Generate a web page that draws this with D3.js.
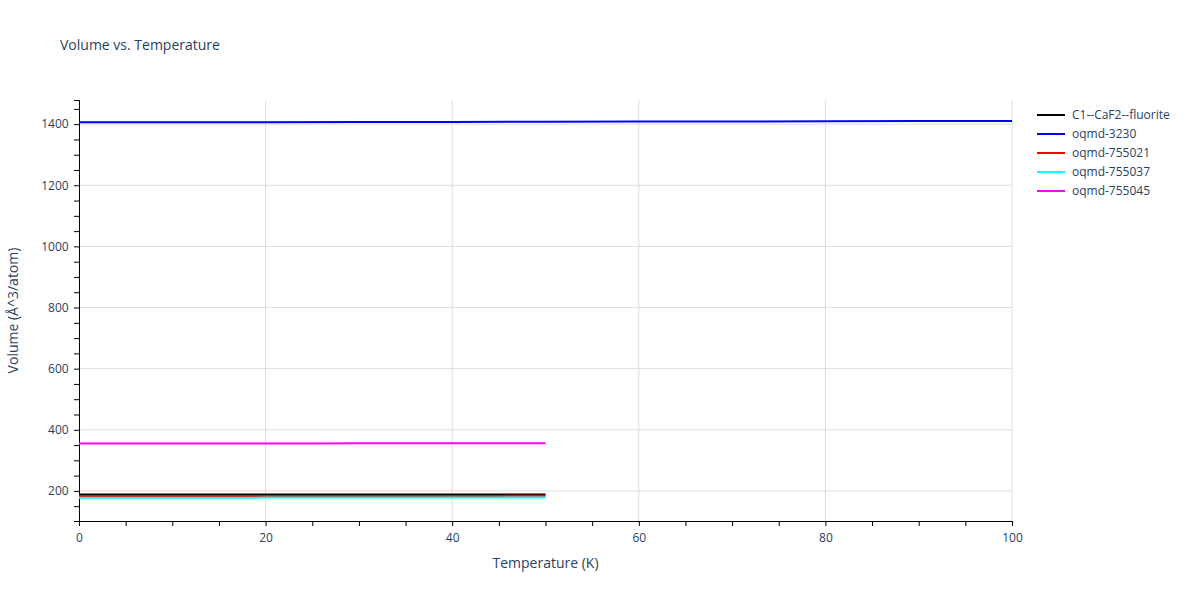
<!DOCTYPE html>
<html>
<head>
<meta charset="utf-8">
<script src="https://cdn.jsdelivr.net/npm/d3@7"></script>
<style>
  body { margin: 0; font-family: 'Open Sans', sans-serif; background: #fff; }
  text { fill: #2a3f5f; }
</style>
</head>
<body>
<svg id="chart" width="1200" height="600"></svg>
<script>
var temps50 = [0, 5, 10, 15, 20, 25, 30, 35, 40, 45, 50];
var temps100 = [0, 10, 20, 30, 40, 50, 60, 70, 80, 90, 100];

var seriesNames = ["C1--CaF2--fluorite", "oqmd-3230", "oqmd-755021", "oqmd-755037", "oqmd-755045"];
var seriesColors = ["#000000", "#0000ff", "#ff0000", "#00ffff", "#ff00ff"];

var volBlack = [187.8, 187.8, 187.9, 187.9, 188.0, 188.0, 188.1, 188.2, 188.2, 188.3, 188.4];
var volBlue = [1406, 1406.3, 1406.6, 1407, 1407.4, 1407.8, 1408.3, 1408.8, 1409.4, 1410, 1410.6];
var volRed = [183.2, 183.2, 183.3, 183.3, 183.4, 183.4, 183.5, 183.6, 183.6, 183.7, 183.8];
var volCyan = [177.8, 177.8, 177.9, 177.9, 178.0, 178.0, 178.1, 178.2, 178.2, 178.3, 178.4];
var volMagenta = [355.0, 355.0, 355.1, 355.2, 355.3, 355.4, 355.5, 355.6, 355.8, 355.9, 356.0];

var series = [
  { x: temps50, y: volBlack },
  { x: temps100, y: volBlue },
  { x: temps50, y: volRed },
  { x: temps50, y: volCyan },
  { x: temps50, y: volMagenta }
];

var svg = d3.select("#chart");
var mLeft = 79, mRight = 1012, mTop = 100, mBottom = 521;

var x = d3.scaleLinear().domain([0, 100]).range([mLeft, mRight]);
var y = d3.scaleLinear().domain([101.5, 1479]).range([mBottom, mTop]);

// grid
svg.append("g").selectAll("line").data([20, 40, 60, 80, 100]).enter().append("line")
  .attr("x1", d => x(d)).attr("x2", d => x(d)).attr("y1", mTop).attr("y2", mBottom)
  .attr("stroke", "#ddd");
svg.append("g").selectAll("line").data([200, 400, 600, 800, 1000, 1200, 1400]).enter().append("line")
  .attr("y1", d => y(d)).attr("y2", d => y(d)).attr("x1", mLeft).attr("x2", mRight)
  .attr("stroke", "#ddd");

// axes
var xAxis = svg.append("g").attr("transform", "translate(0," + mBottom + ")")
  .call(d3.axisBottom(x).tickValues(d3.range(0, 101, 5)).tickSize(5)
    .tickFormat(d => d % 20 === 0 ? d : ""));
var yAxis = svg.append("g").attr("transform", "translate(" + mLeft + ",0)")
  .call(d3.axisLeft(y).tickValues(d3.range(150, 1451, 50)).tickSize(5)
    .tickFormat(d => d % 200 === 0 ? d : ""));
[xAxis, yAxis].forEach(function (a) {
  a.select(".domain").attr("stroke", "#000");
  a.selectAll(".tick line").attr("stroke", "#000");
  a.selectAll("text").attr("font-size", 12).attr("fill", "#2a3f5f").attr("font-family", "'Open Sans', sans-serif");
});
xAxis.selectAll("text").attr("dy", "1.1em");
yAxis.selectAll("text").attr("dx", "-0.2em");

// lines
var line = d3.line().x(d => x(d[0])).y(d => y(d[1]));
series.forEach(function (s, i) {
  svg.append("path").datum(s.x.map((t, j) => [t, s.y[j]]))
    .attr("d", line).attr("fill", "none")
    .attr("stroke", seriesColors[i]).attr("stroke-width", 2);
});

// titles
svg.append("text").attr("x", 60).attr("y", 50).attr("font-size", 14).text("Volume vs. Temperature");
svg.append("text").attr("x", (mLeft + mRight) / 2).attr("y", 568).attr("text-anchor", "middle")
  .attr("font-size", 14).text("Temperature (K)");
svg.append("text").attr("transform", "translate(18," + ((mTop + mBottom) / 2) + ") rotate(-90)")
  .attr("text-anchor", "middle").attr("font-size", 14).text("Volume (Å^3/atom)");

// legend
var lg = svg.append("g").attr("transform", "translate(1037,115)");
seriesNames.forEach(function (n, i) {
  var g = lg.append("g").attr("transform", "translate(0," + i * 19 + ")");
  g.append("line").attr("x1", 0).attr("x2", 28).attr("stroke", seriesColors[i]).attr("stroke-width", 2);
  g.append("text").attr("x", 35).attr("y", 4).attr("font-size", 12).text(n);
});
</script>
</body>
</html>
